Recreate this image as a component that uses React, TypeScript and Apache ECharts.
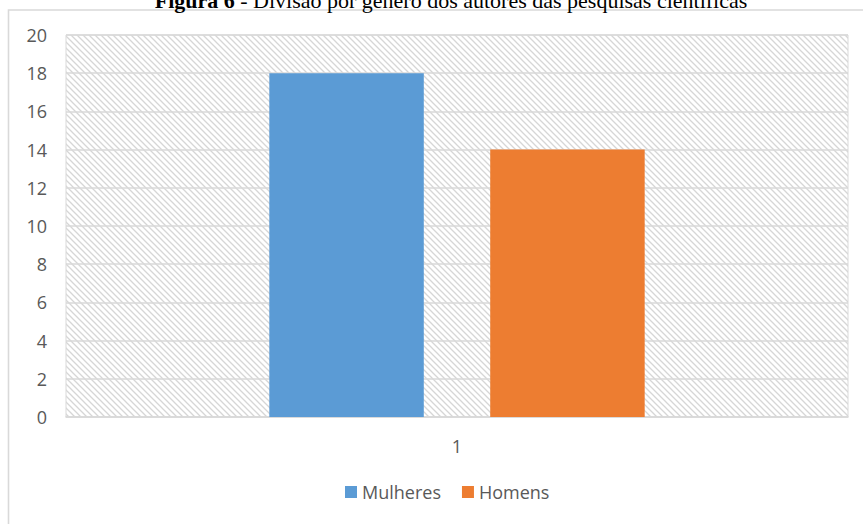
import React, { useEffect, useRef } from "react";
import * as echarts from "echarts";

const categories = ["1"];
const mulheres = [18];
const homens = [14];
const seriesNames = ["Mulheres", "Homens"];
const yTicks = { min: 0, max: 20, interval: 2 };

// diagonal hatch tile for the plot background
const hatchSvg =
  '<svg xmlns="http://www.w3.org/2000/svg" width="6" height="6">' +
  '<rect width="6" height="6" fill="#ffffff"/>' +
  '<path d="M-1,-1 L7,7 M-1,5 L1,7 M5,-1 L7,1" stroke="#d6d6d6" stroke-width="1.3"/>' +
  "</svg>";
const hatchUrl = "data:image/svg+xml;charset=utf-8," + encodeURIComponent(hatchSvg);

export default function App() {
  const ref = useRef<HTMLDivElement>(null);

  useEffect(() => {
    if (!ref.current) return;
    const chart = echarts.init(ref.current, undefined, { renderer: "svg" });
    const labelFont = "'Open Sans', sans-serif";

    chart.setOption({
      animation: false,
      backgroundColor: "#ffffff",
      graphic: [
        {
          type: "rect",
          shape: { x: 8.5, y: 10, width: 900, height: 600 },
          style: { fill: "none", stroke: "#d9d9d9", lineWidth: 1.6 },
          silent: true,
          z: 0,
        },
        {
          type: "text",
          x: 451,
          y: 0,
          style: {
            text: "{b|Figura 6} - Divisão por gênero dos autores das pesquisas científicas",
            align: "center",
            verticalAlign: "middle",
            fill: "#000000",
            font: "22px 'Liberation Serif', 'Times New Roman', serif",
            rich: {
              b: {
                fontWeight: "bold",
                fontSize: 22,
                fontFamily: "'Liberation Serif', 'Times New Roman', serif",
                fill: "#000000",
              },
            },
          },
          silent: true,
        },
      ],
      grid: {
        left: 66,
        top: 35,
        right: 15,
        bottom: 107,
        show: true,
        borderColor: "#d9d9d9",
        borderWidth: 1,
        backgroundColor: { image: hatchUrl, repeat: "repeat" },
      },
      legend: {
        data: seriesNames,
        bottom: 18,
        left: 340,
        itemWidth: 12,
        itemHeight: 12,
        itemGap: 21,
        icon: "rect",
        textStyle: { color: "#595959", fontSize: 18, fontFamily: labelFont },
      },
      xAxis: {
        type: "category",
        data: categories,
        axisTick: { show: false },
        axisLine: { lineStyle: { color: "#d9d9d9", width: 1.6 } },
        axisLabel: { color: "#595959", fontSize: 18, fontFamily: labelFont, margin: 20 },
      },
      yAxis: {
        type: "value",
        min: yTicks.min,
        max: yTicks.max,
        interval: yTicks.interval,
        axisLine: { show: false },
        axisTick: { show: false },
        axisLabel: { color: "#595959", fontSize: 18, fontFamily: labelFont, margin: 19 },
        splitLine: { lineStyle: { color: "#d9d9d9", width: 1.6 } },
      },
      series: [
        {
          name: seriesNames[0],
          type: "bar",
          data: mulheres,
          itemStyle: { color: "#5b9bd5" },
          barGap: "43%",
          barCategoryGap: "52%",
        },
        {
          name: seriesNames[1],
          type: "bar",
          data: homens,
          itemStyle: { color: "#ed7d31" },
        },
      ],
    });

    return () => chart.dispose();
  }, []);

  return (
    <div
      ref={ref}
      style={{ position: "fixed", left: 0, top: 0, width: 863, height: 524 }}
    />
  );
}
